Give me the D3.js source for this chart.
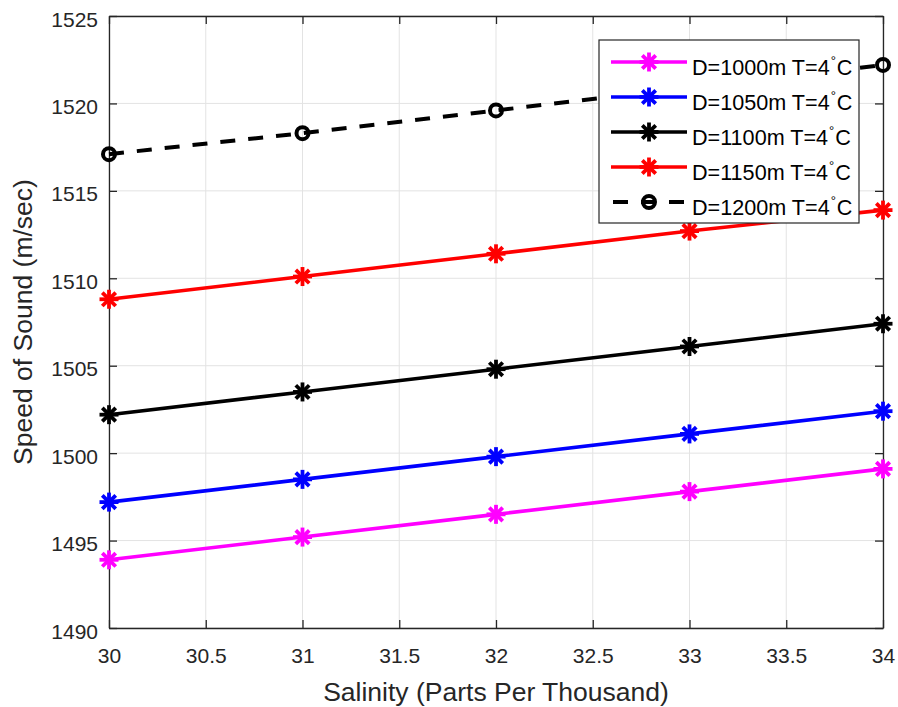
<!DOCTYPE html>
<html>
<head>
<meta charset="utf-8">
<script src="https://cdn.jsdelivr.net/npm/d3@7"></script>
<style>
  html, body { margin: 0; padding: 0; background: #fff; }
  svg { display: block; font-family: "Liberation Sans", Arial, Helvetica, sans-serif; }
</style>
</head>
<body>
<svg id="chart" width="898" height="707"></svg>
<script>
// Salinity (ppt) on the x axis
const salinity = [30, 31, 32, 33, 34];

// Speed of sound (m/sec) at T = 4 °C for each depth
const d1000 = [1493.9, 1495.2, 1496.5, 1497.8, 1499.1];
const d1050 = [1497.2, 1498.5, 1499.8, 1501.1, 1502.4];
const d1100 = [1502.2, 1503.5, 1504.8, 1506.1, 1507.4];
const d1150 = [1508.8, 1510.1, 1511.4, 1512.7, 1513.9];
const d1200 = [1517.1, 1518.3, 1519.6, 1520.9, 1522.2];

const seriesNames = ["D=1000m T=4", "D=1050m T=4", "D=1100m T=4", "D=1150m T=4", "D=1200m T=4"];

const xTicks = [30, 30.5, 31, 31.5, 32, 32.5, 33, 33.5, 34];
const yTicks = [1490, 1495, 1500, 1505, 1510, 1515, 1520, 1525];

const series = [
  { name: seriesNames[0], values: d1000, color: "#ff00ff", marker: "star", dash: null },
  { name: seriesNames[1], values: d1050, color: "#0000ff", marker: "star", dash: null },
  { name: seriesNames[2], values: d1100, color: "#000000", marker: "star", dash: null },
  { name: seriesNames[3], values: d1150, color: "#ff0000", marker: "star", dash: null },
  { name: seriesNames[4], values: d1200, color: "#000000", marker: "circle", dash: "15,13" }
];

const svg = d3.select("#chart");
const m = { left: 109, right: 898 - 883, top: 16, bottom: 707 - 628 };
const W = 898, H = 707;
const axisColor = "#262626";

const x = d3.scaleLinear().domain([30, 34]).range([m.left, W - m.right]);
const y = d3.scaleLinear().domain([1490, 1525]).range([H - m.bottom, m.top]);

// grid
const grid = svg.append("g");
grid.selectAll("line.vx").data(xTicks).enter().append("line")
  .attr("x1", d => x(d)).attr("x2", d => x(d))
  .attr("y1", y(1490)).attr("y2", y(1525))
  .attr("stroke", "#e3e3e3").attr("stroke-width", 1);
grid.selectAll("line.hy").data(yTicks).enter().append("line")
  .attr("x1", x(30)).attr("x2", x(34))
  .attr("y1", d => y(d)).attr("y2", d => y(d))
  .attr("stroke", "#e3e3e3").attr("stroke-width", 1);

// axes with inward ticks on all four sides
function styleAxis(g) {
  g.select(".domain").attr("stroke", axisColor).attr("stroke-width", 1.3);
  g.selectAll(".tick line").attr("stroke", axisColor).attr("stroke-width", 1.3);
  g.selectAll(".tick text").attr("fill", axisColor).attr("font-size", 21)
    .attr("font-family", "Liberation Sans, Arial, sans-serif");
}
const fmtX = d => (Number.isInteger(d) ? d3.format("d")(d) : d3.format(".1f")(d));

const gx = svg.append("g").attr("transform", `translate(0,${y(1490)})`)
  .call(d3.axisBottom(x).tickValues(xTicks).tickFormat(fmtX).tickSizeInner(-8).tickSizeOuter(0).tickPadding(20));
styleAxis(gx);
gx.selectAll(".tick text").attr("dy", 0).attr("y", 35);

const gxt = svg.append("g").attr("transform", `translate(0,${y(1525)})`)
  .call(d3.axisTop(x).tickValues(xTicks).tickFormat("").tickSizeInner(-8).tickSizeOuter(0));
styleAxis(gxt);

const gy = svg.append("g").attr("transform", `translate(${x(30)},0)`)
  .call(d3.axisLeft(y).tickValues(yTicks).tickFormat(d3.format("d")).tickSizeInner(-8).tickSizeOuter(0));
styleAxis(gy);
gy.selectAll(".tick text").attr("x", -11).attr("dy", 0).attr("y", 10);

const gyr = svg.append("g").attr("transform", `translate(${x(34)},0)`)
  .call(d3.axisRight(y).tickValues(yTicks).tickFormat("").tickSizeInner(-8).tickSizeOuter(0));
styleAxis(gyr);

// axis labels
svg.append("text")
  .attr("x", (x(30) + x(34)) / 2).attr("y", 701)
  .attr("text-anchor", "middle").attr("font-size", 26.5).attr("fill", axisColor)
  .text("Salinity (Parts Per Thousand)");
svg.append("text")
  .attr("transform", `translate(32,${(y(1490) + y(1525)) / 2}) rotate(-90)`)
  .attr("text-anchor", "middle").attr("font-size", 26.5).attr("fill", axisColor)
  .text("Speed of Sound (m/sec)");

// markers
function drawMarker(g, type, cx, cy, color) {
  if (type === "star") {
    const r = 9.5, k = r * Math.SQRT1_2;
    const segs = [[0, -r, 0, r], [-r, 0, r, 0], [-k, -k, k, k], [-k, k, k, -k]];
    segs.forEach(s => g.append("line")
      .attr("x1", cx + s[0]).attr("y1", cy + s[1]).attr("x2", cx + s[2]).attr("y2", cy + s[3])
      .attr("stroke", color).attr("stroke-width", 3.8).attr("stroke-linecap", "butt"));
  } else {
    g.append("circle").attr("cx", cx).attr("cy", cy).attr("r", 6)
      .attr("fill", "none").attr("stroke", color).attr("stroke-width", 4);
  }
}

const line = d3.line().x((d, i) => x(salinity[i])).y(d => y(d));
const plot = svg.append("g");
series.forEach(s => {
  plot.append("path").datum(s.values)
    .attr("d", line).attr("fill", "none")
    .attr("stroke", s.color).attr("stroke-width", s.dash ? 4 : 3.6)
    .attr("stroke-dasharray", s.dash);
  const mg = plot.append("g");
  s.values.forEach((v, i) => drawMarker(mg, s.marker, x(salinity[i]), y(v), s.color));
});

// legend
const lg = svg.append("g");
const lx0 = 599, ly0 = 40, lw = 260, lh = 183;
lg.append("rect").attr("x", lx0).attr("y", ly0).attr("width", lw).attr("height", lh)
  .attr("fill", "#fff").attr("stroke", axisColor).attr("stroke-width", 1.2);
series.forEach((s, i) => {
  const cy = 62 + i * 35;
  lg.append("line").attr("x1", s.dash ? 613 : 611).attr("x2", 687).attr("y1", cy).attr("y2", cy)
    .attr("stroke", s.color).attr("stroke-width", s.dash ? 4 : 3.6)
    .attr("stroke-dasharray", s.dash);
  drawMarker(lg, s.marker, 649, cy, s.color);
  const t = lg.append("text").attr("x", 692).attr("y", cy + 13)
    .attr("font-size", 21.6).attr("fill", "#000");
  t.append("tspan").text(s.name);
  t.append("tspan").attr("dy", -10).attr("dx", 1).attr("font-size", 13).text("°");
  t.append("tspan").attr("dy", 10).attr("dx", 1).text("C");
});
</script>
</body>
</html>
